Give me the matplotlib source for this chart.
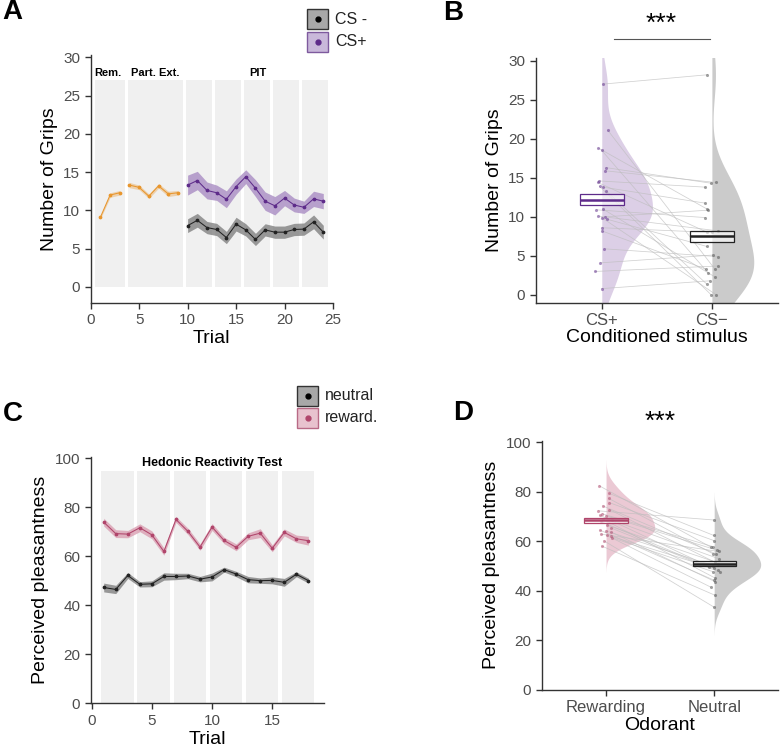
import numpy as np
import matplotlib
matplotlib.use("Agg")
import matplotlib.pyplot as plt
from matplotlib.patches import Rectangle

plt.rcParams["font.family"] = ["Liberation Sans", "DejaVu Sans"]

# ---------------- data ----------------
# Panel A: number of grips per trial
trials_rem = [1, 2, 3]
grips_rem = [9.1, 12.0, 12.3]
se_rem = [0.2, 0.3, 0.3]
trials_ext = [4, 5, 6, 7, 8, 9]
grips_ext = [13.3, 13.0, 11.85, 13.2, 12.15, 12.3]
se_ext = [0.35, 0.3, 0.3, 0.3, 0.35, 0.3]
trials_pit = list(range(10, 25))
grips_csplus = [13.3, 13.9, 12.6, 12.3, 11.45, 13.1, 14.4, 12.9, 11.2, 10.6, 11.6, 10.7, 10.4, 11.5, 11.2]
se_csplus = [1.3, 1.2, 1.1, 1.0, 1.1, 1.0, 0.9, 1.1, 1.2, 1.2, 1.0, 0.9, 0.8, 1.0, 1.0]
grips_csminus = [8.0, 8.7, 7.75, 7.5, 6.45, 8.2, 7.45, 6.2, 7.45, 7.15, 7.15, 7.5, 7.55, 8.5, 7.15]
se_csminus = [0.9, 0.9, 0.8, 0.8, 0.8, 0.9, 0.8, 0.8, 0.8, 0.8, 0.8, 0.8, 0.8, 0.9, 0.9]
blocks_a = [(0.4, 3.5), (3.8, 9.5), (9.8, 12.5), (12.8, 15.5), (15.8, 18.5), (18.8, 21.5), (21.8, 24.5)]
block_labels_a = [("Rem.", 1.8), ("Part. Ext.", 6.65), ("PIT", 17.2)]

# Panel B: per-subject grips (paired)
b_csplus = [27.0, 21.1, 18.8, 18.5, 16.3, 15.9, 14.6, 14.4, 13.9, 13.8, 13.3, 10.9,
            11.0, 10.1, 9.9, 10.0, 9.7, 8.6, 8.2, 5.9, 4.1, 3.0, 0.8]
b_csplus_jit = [0.01, 0.054, -0.03, 0.0, 0.04, 0.03, -0.027, -0.036, -0.02, 0.012, 0.042, -0.05,
                0.01, -0.033, 0.0, 0.033, 0.045, 0.0, 0.0, 0.024, -0.012, -0.06, 0.0]
b_csminus = [28.2, 3.3, 11.0, 2.8, 14.3, 14.4, 13.8, 8.0, 0.0, 11.75, 1.4, 9.9,
             2.3, 8.2, 0.0, 10.85, 6.2, 8.0, 3.3, 4.9, 5.1, 3.7, 1.8]
b_csminus_jit = [-0.04, 0.027, -0.045, -0.033, -0.006, 0.033, -0.06, -0.04, -0.006, -0.06, -0.048, -0.06,
                 0.027, 0.054, 0.04, -0.036, -0.045, 0.0, -0.054, 0.057, 0.006, 0.057, -0.018]
b_box_halfheight = [0.7, 0.7]
b_labels = ["CS+", "CS\u2212"]

# Panel C: perceived pleasantness per trial
trials_c = list(range(1, 19))
pleas_reward = [74.0, 69.3, 69.1, 71.7, 68.8, 62.0, 75.1, 70.2, 63.8, 72.0, 66.5, 63.7,
                68.2, 69.5, 63.3, 69.8, 67.2, 66.4]
se_reward = [1.6, 1.6, 1.5, 1.6, 1.6, 1.5, 1.2, 1.3, 1.3, 1.4, 1.3, 1.4, 1.4, 1.8, 1.4, 1.4, 1.5, 1.8]
pleas_neutral = [47.3, 46.5, 52.2, 48.6, 48.8, 51.8, 51.8, 52.0, 50.7, 51.6, 54.6, 52.8,
                 50.5, 50.1, 50.2, 49.4, 52.7, 50.1]
se_neutral = [1.8, 1.7, 1.2, 1.1, 1.2, 1.5, 1.3, 1.1, 1.1, 1.6, 1.0, 1.1, 1.3, 1.1, 1.4, 1.6, 1.0, 1.0]
blocks_c = [(0.8, 3.5), (3.8, 6.5), (6.8, 9.5), (9.8, 12.5), (12.8, 15.5), (15.8, 18.5)]

# Panel D: per-subject pleasantness (paired)
d_reward = [82.4, 79.3, 77.3, 75.6, 74.3, 72.3, 72.8, 71.1, 70.5, 70.3, 68.9, 68.6,
            68.0, 66.5, 65.4, 64.5, 64.2, 63.8, 62.9, 62.4, 62.0, 61.5, 60.2, 58.1]
d_reward_jit = [-0.062, 0.031, 0.025, 0.031, -0.031, -0.071, 0.031, -0.034, -0.056, 0.0, -0.025, 0.052,
                -0.049, 0.009, 0.046, -0.056, 0.0, 0.043, -0.046, 0.006, 0.049, 0.052, -0.019, -0.04]
d_neutral = [57.6, 62.4, 55.0, 60.3, 54.9, 68.6, 50.9, 57.9, 48.3, 56.4, 45.1, 53.0,
             49.7, 51.7, 47.5, 44.4, 50.2, 43.7, 55.9, 41.5, 49.1, 47.8, 33.4, 38.2]
d_neutral_jit = [-0.028, -0.006, -0.012, -0.003, 0.019, -0.003, 0.037, -0.015, 0.031, 0.028, 0.012, 0.04,
                 -0.052, 0.009, 0.056, -0.006, -0.012, 0.009, 0.04, -0.031, 0.0, -0.015, 0.0, 0.009]
d_box_halfheight = [0.95, 0.95]
d_labels = ["Rewarding", "Neutral"]

# ---------------- style ----------------
ORANGE = "#E8962D"
PURPLE = "#5E2B8A"
PURPLE_RIB = "#A98CC3"
GRAY_RIB = "#7A7A7A"
PINK = "#B0456B"
PINK_RIB = "#D89AAE"
TICK_COL = "#4D4D4D"
AX_COL = "#333333"
BLOCK_COL = "#F0F0F0"


def style_axes(ax):
    for s in ("top", "right"):
        ax.spines[s].set_visible(False)
    for s in ("left", "bottom"):
        ax.spines[s].set_color(AX_COL)
        ax.spines[s].set_linewidth(1.0)
    ax.tick_params(colors=AX_COL, labelcolor=TICK_COL, labelsize=11, length=4, width=1)


def kde_nrd0(vals, ngrid=256, adjust=1.15):
    v = np.asarray(vals, dtype=float)
    n = len(v)
    iqr = np.subtract(*np.percentile(v, [75, 25]))
    bw = adjust * 0.9 * min(v.std(ddof=1), iqr / 1.34) * n ** -0.2
    y = np.linspace(v.min() - 3 * bw, v.max() + 3 * bw, ngrid)
    dens = np.exp(-0.5 * ((y[:, None] - v[None, :]) / bw) ** 2).sum(axis=1)
    return y, dens / dens.max()


def half_violin(ax, x0, vals, width, color):
    y, d = kde_nrd0(vals)
    ax.fill_betweenx(y, x0, x0 + d * width, color=color, lw=0, zorder=1)


def crossbar(ax, x0, mean, half, color):
    ax.add_patch(Rectangle((x0 - 0.2, mean - half), 0.4, 2 * half, facecolor="white",
                           alpha=0.6, edgecolor="none", zorder=4))
    ax.add_patch(Rectangle((x0 - 0.2, mean - half), 0.4, 2 * half, facecolor="none",
                           edgecolor=color, lw=0.9, zorder=5))
    ax.hlines(mean, x0 - 0.2, x0 + 0.2, color=color, lw=1.8, zorder=5)


def paired_panel(ax, a, a_jit, b, b_jit, cols, vcols, vwidths, halfs):
    xa = 1 + np.array(a_jit)
    xb = 2 + np.array(b_jit)
    half_violin(ax, 1, a, vwidths[0], vcols[0])
    half_violin(ax, 2, b, vwidths[1], vcols[1])
    for i in range(len(a)):
        ax.plot([xa[i], xb[i]], [a[i], b[i]], color="#BDBDBD", lw=0.55, alpha=0.7, zorder=2)
    ax.scatter(xa, a, s=5, color=cols[0], alpha=0.5, lw=0, zorder=3)
    ax.scatter(xb, b, s=5, color="#555555", alpha=0.55, lw=0, zorder=3)
    crossbar(ax, 1, np.mean(a), halfs[0], cols[0])
    crossbar(ax, 2, np.mean(b), halfs[1], "#222222")


def key_box(fig, x, y, face, edge, dot, label):
    # legend key in pixel coordinates from top-left
    W, H = 780, 749
    fig.add_artist(Rectangle((x / W, 1 - (y + 20) / H), 21 / W, 20 / H, transform=fig.transFigure,
                             facecolor=face, edgecolor=edge, lw=1.0))
    fig.add_artist(plt.Line2D([(x + 10.5) / W], [1 - (y + 10) / H], transform=fig.transFigure,
                              marker="o", ms=3.5, color=dot, lw=0))
    fig.text((x + 28) / W, 1 - (y + 10) / H, label, fontsize=11.5, va="center", ha="left", color="#222222")


def trial_line(ax, tr, m, s, col, rib, alpha):
    m = np.array(m); s = np.array(s)
    ax.fill_between(tr, m - s, m + s, color=rib, alpha=alpha, lw=0, zorder=2)
    ax.plot(tr, m, color=col, lw=0.75, marker="o", ms=1.7, zorder=3)


fig = plt.figure(figsize=(7.8, 7.49), dpi=100)

# ---------------- Panel A ----------------
axA = fig.add_axes([0.1163, 0.5955, 0.3106, 0.3311])
style_axes(axA)
for x0, x1 in blocks_a:
    axA.add_patch(Rectangle((x0, 0), x1 - x0, 27, facecolor=BLOCK_COL, edgecolor="none", zorder=0))
for txt, xc in block_labels_a:
    axA.text(xc, 28.0, txt, ha="center", va="center", fontsize=8, fontweight="bold")
trial_line(axA, trials_rem, grips_rem, se_rem, ORANGE, ORANGE, 0.35)
trial_line(axA, trials_ext, grips_ext, se_ext, ORANGE, ORANGE, 0.35)
trial_line(axA, trials_pit, grips_csplus, se_csplus, PURPLE, PURPLE_RIB, 0.8)
trial_line(axA, trials_pit, grips_csminus, se_csminus, "#222222", GRAY_RIB, 0.75)
axA.set_xlim(0, 25)
axA.set_ylim(-2.1, 30.3)
axA.set_xticks([0, 5, 10, 15, 20, 25])
axA.set_yticks([0, 5, 10, 15, 20, 25, 30])
axA.set_xlabel("Trial", fontsize=14, labelpad=2)
axA.set_ylabel("Number of Grips", fontsize=14, labelpad=4)

# ---------------- Panel B ----------------
axB = fig.add_axes([0.6868, 0.5959, 0.3106, 0.3267])
style_axes(axB)
paired_panel(axB, b_csplus, b_csplus_jit, b_csminus, b_csminus_jit,
             (PURPLE, "#222222"), ("#DCCFE6", "#CBCBCB"), (0.46, 0.38), b_box_halfheight)
axB.set_xlim(0.4, 2.6)
axB.set_ylim(-1.0, 30.35)
axB.set_xticks([1, 2])
axB.set_xticklabels(b_labels, fontsize=12)
axB.set_yticks([0, 5, 10, 15, 20, 25, 30])
axB.set_xlabel("Conditioned stimulus", fontsize=14, labelpad=1)
axB.set_ylabel("Number of Grips", fontsize=14, labelpad=4)
axB.plot([1.115, 1.98], [32.8, 32.8], color="#555555", lw=0.8, clip_on=False)
axB.text(1.54, 33.2, "***", ha="center", va="bottom", fontsize=19, clip_on=False)

# ---------------- Panel C ----------------
axC = fig.add_axes([0.1163, 0.061, 0.2991, 0.3292])
style_axes(axC)
for x0, x1 in blocks_c:
    axC.add_patch(Rectangle((x0, 0), x1 - x0, 95, facecolor=BLOCK_COL, edgecolor="none", zorder=0))
axC.text(10.0, 98.2, "Hedonic Reactivity Test", ha="center", va="center", fontsize=9, fontweight="bold")
trial_line(axC, trials_c, pleas_reward, se_reward, PINK, PINK_RIB, 0.75)
trial_line(axC, trials_c, pleas_neutral, se_neutral, "#222222", GRAY_RIB, 0.75)
axC.set_xlim(-0.08, 19.3)
axC.set_ylim(0, 100.7)
axC.set_xticks([0, 5, 10, 15])
axC.set_yticks([0, 20, 40, 60, 80, 100])
axC.set_xlabel("Trial", fontsize=14, labelpad=2)
axC.set_ylabel("Perceived pleasantness", fontsize=14, labelpad=4)

# ---------------- Panel D ----------------
axD = fig.add_axes([0.6945, 0.0788, 0.3029, 0.3328])
style_axes(axD)
paired_panel(axD, d_reward, d_reward_jit, d_neutral, d_neutral_jit,
             (PINK, "#222222"), ("#EBC9D4", "#CBCBCB"), (0.45, 0.43), d_box_halfheight)
axD.set_xlim(0.405, 2.59)
axD.set_ylim(0, 100.6)
axD.set_xticks([1, 2])
axD.set_xticklabels(d_labels, fontsize=12)
axD.set_yticks([0, 20, 40, 60, 80, 100])
axD.set_xlabel("Odorant", fontsize=14, labelpad=1)
axD.set_ylabel("Perceived pleasantness", fontsize=14, labelpad=4)
axD.text(1.5, 103.5, "***", ha="center", va="bottom", fontsize=19, clip_on=False)

# ---------------- legends & panel letters ----------------
key_box(fig, 307, 9, "#A8A8A8", "#333333", "black", "CS -")
key_box(fig, 307, 32, "#C9B8DA", "#7E5A9E", PURPLE, "CS+")
key_box(fig, 297, 386, "#A8A8A8", "#333333", "black", "neutral")
key_box(fig, 297, 408, "#E8C2CE", "#B86A86", PINK, "reward.")

for letter, x, y in (("A", 2, 12), ("B", 443, 13), ("C", 3, 414), ("D", 453, 413)):
    fig.text(x / 780, 1 - y / 749, letter, fontsize=20, fontweight="bold", ha="left", va="center")

fig.savefig("out.png", dpi=100)
